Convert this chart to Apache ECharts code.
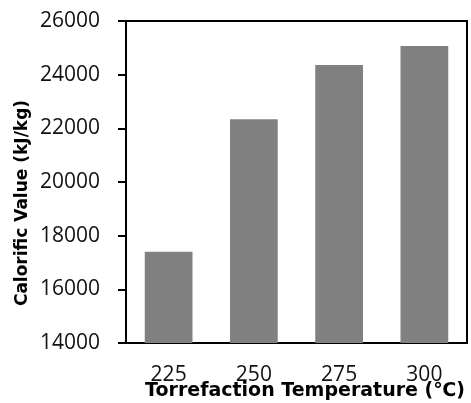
<!DOCTYPE html>
<html><head><meta charset="utf-8">
<script src="https://cdn.jsdelivr.net/npm/echarts@6/dist/echarts.min.js"></script>
<style>html,body{margin:0;padding:0;background:#fff}#c{width:471px;height:403px}</style>
</head><body><div id="c"></div>
<script>
const categories = ['225', '250', '275', '300'];
const calorificValues = [17400, 22340, 24360, 25070];
const yTicks = { min: 14000, max: 26000, interval: 2000 };
const xTitle = 'Torrefaction Temperature (℃)';
const yTitle = 'Calorific Value (kJ/kg)';

const chart = echarts.init(document.getElementById('c'), null, { renderer: 'canvas' });
const font = '"Open Sans", "DejaVu Sans", sans-serif';
const titleFont = '"DejaVu Sans", sans-serif';
chart.setOption({
  animation: false,
  grid: { left: 126, right: 4, top: 21, bottom: 60, show: true, borderColor: '#000', borderWidth: 2, backgroundColor: 'transparent' },
  xAxis: {
    type: 'category', data: categories,
    axisLine: { lineStyle: { color: '#000', width: 2 } },
    axisTick: { show: false },
    axisLabel: { color: '#111', fontSize: 21, fontFamily: font, margin: 22 }
  },
  yAxis: {
    type: 'value', min: yTicks.min, max: yTicks.max, interval: yTicks.interval,
    axisLine: { show: true, lineStyle: { color: '#000', width: 2 } },
    axisTick: { show: true, length: 8, lineStyle: { color: '#000', width: 2 } },
    splitLine: { show: false },
    axisLabel: { color: '#111', fontSize: 21, fontFamily: font, margin: 26, formatter: v => String(v) }
  },
  series: [{
    type: 'bar', data: calorificValues, barWidth: '56%',
    itemStyle: { color: '#808080' }
  }],
  graphic: [
    { type: 'text', x: 305, y: 391, style: { text: xTitle, font: 'bold 19px ' + titleFont, fill: '#000', textAlign: 'center', textVerticalAlign: 'middle' } },
    { type: 'text', x: 23, y: 203, rotation: Math.PI / 2, style: { text: yTitle, font: 'bold 17px ' + titleFont, fill: '#000', textAlign: 'center', textVerticalAlign: 'middle' } }
  ]
});
</script></body></html>
